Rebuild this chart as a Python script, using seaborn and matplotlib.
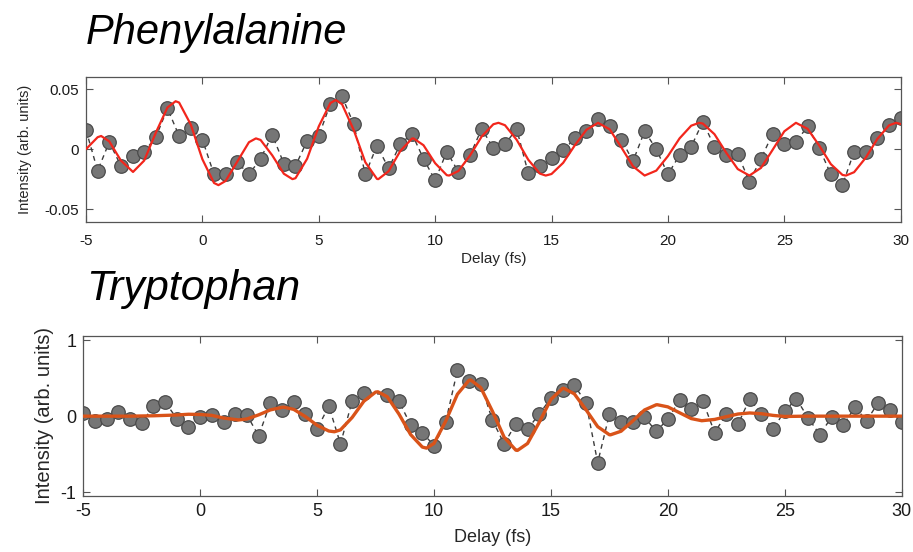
import numpy as np
import pandas as pd
import matplotlib
matplotlib.use("Agg")
import matplotlib.pyplot as plt
import seaborn as sns

phe_delay = [-5.0, -4.5, -4.0, -3.5, -3.0, -2.5, -2.0, -1.5, -1.0, -0.5,
             0.0, 0.5, 1.0, 1.5, 2.0, 2.5, 3.0, 3.5, 4.0, 4.5,
             5.0, 5.5, 6.0, 6.5, 7.0, 7.5, 8.0, 8.5, 9.0, 9.5,
             10.0, 10.5, 11.0, 11.5, 12.0, 12.5, 13.0, 13.5, 14.0, 14.5,
             15.0, 15.5, 16.0, 16.5, 17.0, 17.5, 18.0, 18.5, 19.0, 19.5,
             20.0, 20.5, 21.0, 21.5, 22.0, 22.5, 23.0, 23.5, 24.0, 24.5,
             25.0, 25.5, 26.0, 26.5, 27.0, 27.5, 28.0, 28.5, 29.0, 29.5, 30.0]
phe_signal = [0.016, -0.018, 0.006, -0.014, -0.006, -0.002, 0.010, 0.034, 0.011, 0.018,
              0.008, -0.021, -0.021, -0.011, -0.021, -0.008, 0.012, -0.012, -0.014, 0.007,
              0.011, 0.038, 0.044, 0.021, -0.021, 0.003, -0.016, 0.004, 0.013, -0.008,
              -0.026, -0.002, -0.019, -0.005, 0.017, 0.001, 0.004, 0.017, -0.020, -0.014,
              -0.007, -0.001, 0.009, 0.015, 0.025, 0.019, 0.008, -0.010, 0.015, 0.000,
              -0.021, -0.005, 0.002, 0.023, 0.002, -0.005, -0.004, -0.027, -0.008, 0.013,
              0.004, 0.006, 0.019, 0.001, -0.021, -0.030, -0.002, -0.002, 0.009, 0.020, 0.026]

phe_fit_t = [-5.0, -4.5, -4.35, -4.0, -3.5, -2.98, -2.5, -2.0, -1.5, -1.15, -1.0, -0.5,
             0.0, 0.5, 0.69, 1.0, 1.5, 2.0, 2.3, 2.5, 3.0, 3.5, 3.87, 4.0, 4.5,
             5.0, 5.5, 5.73, 6.0, 6.5, 7.0, 7.5, 7.56, 8.0, 8.5, 9.0, 9.07, 9.5,
             10.0, 10.5, 10.6, 11.0, 11.5, 12.0, 12.5, 12.72, 13.0, 13.5, 14.0, 14.5,
             14.75, 15.0, 15.5, 16.0, 16.5, 17.0, 17.5, 18.0, 18.5, 19.0, 19.5,
             20.0, 20.5, 21.0, 21.34, 21.5, 22.0, 22.5, 23.0, 23.5, 24.0, 24.5,
             25.0, 25.5, 26.0, 26.5, 27.0, 27.5, 27.65, 28.0, 28.5, 29.0, 29.5, 29.8, 30.0]
phe_fit_v = [0.000, 0.010, 0.011, 0.0065, -0.0095, -0.019, -0.0095, 0.0138, 0.0348, 0.040, 0.0389, 0.0206,
             -0.0084, -0.0282, -0.030, -0.0265, -0.0103, 0.0058, 0.009, 0.0077, -0.0051, -0.0205, -0.025, -0.0242, -0.008,
             0.019, 0.0385, 0.041, 0.0375, 0.0161, -0.0109, -0.0248, -0.025, -0.0184, -0.0016, 0.0088, 0.009, 0.0033,
             -0.0117, -0.0217, -0.022, -0.0182, -0.0052, 0.0106, 0.0208, 0.022, 0.020, 0.0079, -0.0088, -0.0204,
             -0.022, -0.0207, -0.0114, 0.0032, 0.0162, 0.022, 0.0165, 0.0015, -0.0143, -0.022, -0.0179,
             -0.0058, 0.0090, 0.0196, 0.022, 0.0214, 0.0125, -0.0028, -0.0166, -0.022, -0.0156, -0.0005,
             0.0149, 0.022, 0.0170, 0.0031, -0.0125, -0.0215, -0.022, -0.0192, -0.0071, 0.0086, 0.0199, 0.022, 0.021]

# Tryptophan: measured points (no sample at 7.5 fs) and fitted curve knots
trp_delay = [-5.0, -4.5, -4.0, -3.5, -3.0, -2.5, -2.0, -1.5, -1.0, -0.5,
             0.0, 0.5, 1.0, 1.5, 2.0, 2.5, 3.0, 3.5, 4.0, 4.5,
             5.0, 5.5, 6.0, 6.5, 7.0, 8.0, 8.5, 9.0, 9.5,
             10.0, 10.5, 11.0, 11.5, 12.0, 12.5, 13.0, 13.5, 14.0, 14.5,
             15.0, 15.5, 16.0, 16.5, 17.0, 17.5, 18.0, 18.5, 19.0, 19.5,
             20.0, 20.5, 21.0, 21.5, 22.0, 22.5, 23.0, 23.5, 24.0, 24.5,
             25.0, 25.5, 26.0, 26.5, 27.0, 27.5, 28.0, 28.5, 29.0, 29.5, 30.0]
trp_signal = [0.046, -0.059, -0.033, 0.055, -0.041, -0.094, 0.134, 0.186, -0.033, -0.138,
              -0.006, 0.016, -0.076, 0.029, 0.016, -0.260, 0.173, 0.081, 0.182, 0.029,
              -0.172, 0.134, -0.365, 0.199, 0.308, 0.282, 0.196, -0.115, -0.216,
              -0.387, -0.076, 0.602, 0.466, 0.419, -0.054, -0.365, -0.098, -0.172, 0.029,
              0.235, 0.340, 0.406, 0.177, -0.610, 0.025, -0.072, -0.076, -0.014, -0.198,
              -0.041, 0.209, 0.091, 0.196, -0.216, 0.025, -0.106, 0.226, 0.029, -0.168,
              0.068, 0.226, -0.024, -0.243, -0.014, -0.119, 0.117, -0.059, 0.177, 0.081, -0.080]

trp_fit_t = [-5.0, -4.0, -3.0, -2.0, -1.0, -0.5, 0.0, 0.5, 1.0, 1.65, 2.0, 2.5, 3.0, 3.5, 3.59,
             4.0, 4.5, 5.0, 5.5, 5.74, 6.0, 6.5, 7.0, 7.5, 7.6, 8.0, 8.5, 9.0, 9.5, 9.68,
             10.0, 10.5, 11.0, 11.5, 11.57, 12.0, 12.5, 13.0, 13.5, 13.57, 14.0, 14.5,
             15.0, 15.5, 15.55, 16.0, 16.5, 17.0, 17.5, 17.55, 18.0, 18.5, 19.0, 19.5, 19.55,
             20.0, 20.5, 21.0, 21.45, 22.0, 22.5, 23.0, 23.5, 24.0, 24.5, 25.0, 26.0, 27.0, 28.0, 29.0, 30.0]
trp_fit_v = [0.0, 0.0, 0.0, 0.005, 0.015, 0.025, 0.022, 0.010, -0.025, -0.050, -0.037, 0.017, 0.082, 0.116, 0.117,
             0.089, -0.006, -0.120, -0.195, -0.205, -0.180, -0.017, 0.196, 0.316, 0.320, 0.255, 0.028, -0.242, -0.406, -0.420,
             -0.358, -0.065, 0.288, 0.472, 0.475, 0.374, 0.063, -0.277, -0.447, -0.450, -0.359, -0.081,
             0.220, 0.365, 0.366, 0.293, 0.084, -0.138, -0.244, -0.245, -0.198, -0.063, 0.081, 0.149, 0.150,
             0.122, 0.045, -0.032, -0.060, -0.043, -0.007, 0.028, 0.042, 0.032, 0.010, -0.004, 0.0, 0.0, 0.0, 0.0, 0.0]

phe_df = pd.DataFrame({"delay": phe_delay, "signal": phe_signal})
phe_fit = pd.DataFrame({"delay": phe_fit_t, "signal": phe_fit_v})
trp_df = pd.DataFrame({"delay": trp_delay, "signal": trp_signal})
trp_fit = pd.DataFrame({"delay": trp_fit_t, "signal": trp_fit_v})

sns.set_style("ticks")
plt.rcParams["font.family"] = ["Liberation Sans", "DejaVu Sans"]

fig = plt.figure(figsize=(9.13, 5.52), dpi=100)
ax1 = fig.add_axes([0.0942, 0.5984, 0.8923, 0.2627])
ax2 = fig.add_axes([0.0912, 0.1020, 0.8964, 0.2893])

dot_fill = "#767676"
dot_edge = "#4a4a4a"


def draw_panel(ax, data, fit, fit_color, fit_lw):
    sns.lineplot(data=data, x="delay", y="signal", ax=ax, color="#3c3c3c",
                 linestyle=(0, (3.5, 3)), linewidth=1.0, sort=False, zorder=1)
    sns.scatterplot(data=data, x="delay", y="signal", ax=ax, s=95, color=dot_fill,
                    edgecolor=dot_edge, linewidth=0.9, zorder=2)
    sns.lineplot(data=fit, x="delay", y="signal", ax=ax, color=fit_color,
                 linewidth=fit_lw, sort=False, zorder=3)
    ax.set_xlim(-5, 30)
    ax.set_xticks([-5, 0, 5, 10, 15, 20, 25, 30])
    ax.set_xticklabels(["-5", "0", "5", "10", "15", "20", "25", "30"])
    ax.tick_params(direction="in", top=True, right=True, length=5, width=0.8,
                   colors="#555555", labelcolor="#1a1a1a", labelsize=11, pad=5)
    for sp in ax.spines.values():
        sp.set_visible(True)
        sp.set_color("#555555")
        sp.set_linewidth(0.9)


draw_panel(ax1, phe_df, phe_fit, "#f2261c", 1.6)
ax1.set_ylim(-0.0605, 0.0605)
ax1.set_yticks([-0.05, 0, 0.05])
ax1.set_yticklabels(["-0.05", "0", "0.05"])
ax1.tick_params(axis="x", pad=9)
ax1.set_xlabel("Delay (fs)", fontsize=11, labelpad=3)
ax1.set_ylabel("Intensity (arb. units)", fontsize=10.5, labelpad=9)

draw_panel(ax2, trp_df, trp_fit, "#d95319", 2.4)
ax2.set_ylim(-1.045, 1.053)
ax2.set_yticks([-1, 0, 1])
ax2.set_yticklabels(["-1", "0", "1"])
ax2.tick_params(labelsize=13, pad=5)
ax2.set_xlabel("Delay (fs)", fontsize=13, labelpad=7)
ax2.set_ylabel("Intensity (arb. units)", fontsize=14.5, labelpad=5)

fig.text(0.094, 1 - 33 / 552, "Phenylalanine", fontsize=30, style="italic",
         ha="left", va="center", color="black")
fig.text(0.094, 1 - 289 / 552, "Tryptophan", fontsize=31, style="italic",
         ha="left", va="center", color="black")

fig.savefig("out.png", dpi=100)
